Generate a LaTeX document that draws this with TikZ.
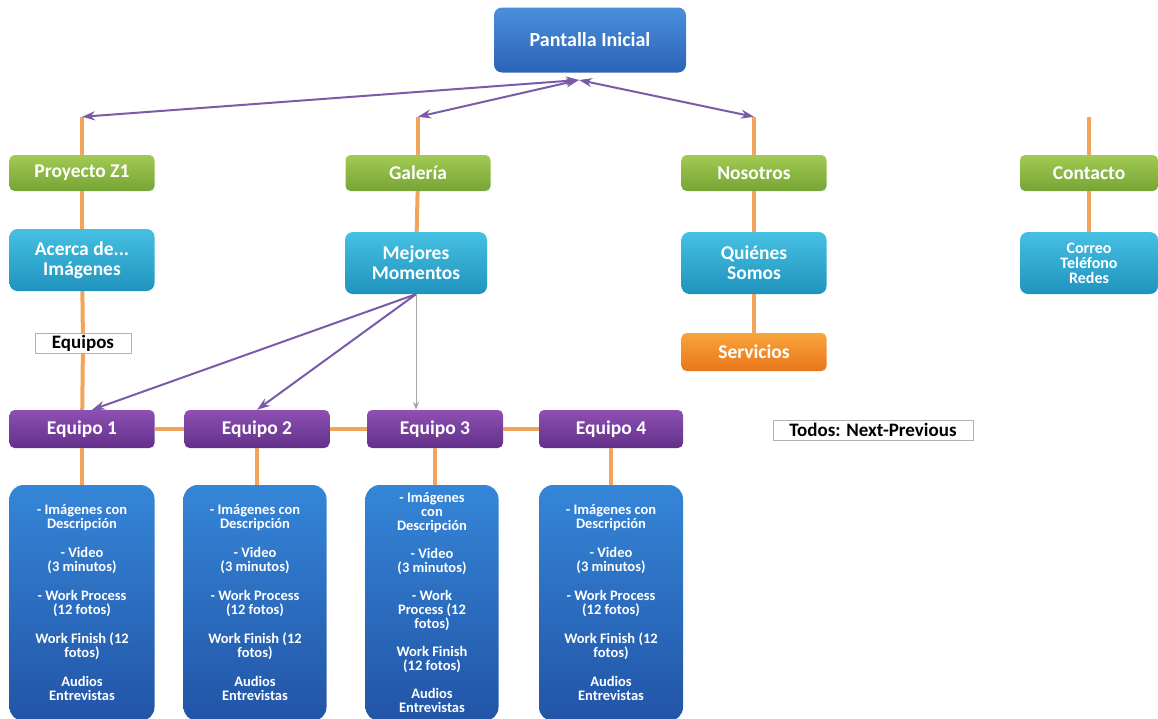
\documentclass[tikz,border=0pt]{standalone}
\usepackage{fontspec}
\usetikzlibrary{arrows.meta}
\setmainfont{Carlito}

\definecolor{homeA}{HTML}{4A8FDC}
\definecolor{homeB}{HTML}{2B63B5}
\definecolor{greenA}{HTML}{A2CA52}
\definecolor{greenB}{HTML}{76A436}
\definecolor{cyanA}{HTML}{46C0E2}
\definecolor{cyanB}{HTML}{1F93BE}
\definecolor{purpA}{HTML}{8E50B2}
\definecolor{purpB}{HTML}{62308A}
\definecolor{servA}{HTML}{F9A43E}
\definecolor{servB}{HTML}{E8761A}
\definecolor{blueA}{HTML}{3586D8}
\definecolor{blueB}{HTML}{2254A6}
\definecolor{lineorange}{HTML}{F2A55A}
\definecolor{navpurple}{HTML}{7A5BA8}

\newcommand{\contenido}{- Imágenes con\\Descripción\\[15pt]- Video\\(3 minutos)\\[15pt]- Work Process\\(12 fotos)\\[15pt]Work Finish (12\\fotos)\\[15pt]Audios\\Entrevistas}

\begin{document}
\begin{tikzpicture}[x=1pt, y=-1pt,
		base/.style={rounded corners=5pt, text=white, align=center, inner sep=0pt, font=\bfseries\fontsize{19.5}{20}\selectfont},
		menu/.style={base, minimum width=145pt, minimum height=36pt, top color=greenA, bottom color=greenB},
		sub/.style={base, minimum width=145pt, minimum height=62pt, rounded corners=8pt, top color=cyanA, bottom color=cyanB},
		team/.style={base, minimum height=38pt, top color=purpA, bottom color=purpB},
		detail/.style={base, rounded corners=14pt, minimum height=236pt, top color=blueA, bottom color=blueB, font=\bfseries\fontsize{14.5}{14}\selectfont},
		tag/.style={draw=gray!60, fill=white, inner sep=0pt, minimum height=20pt, font=\bfseries\fontsize{19}{20}\selectfont},
		link/.style={draw=lineorange, line width=4pt},
		nav/.style={{Stealth[length=13pt,width=9pt]}-{Stealth[length=13pt,width=9pt]}, draw=navpurple, line width=2pt}
	]
	\useasboundingbox (0,0) rectangle (1158,718);

	\node[base, rounded corners=8pt, minimum width=192pt, minimum height=65pt, top color=homeA, bottom color=homeB, font=\bfseries\fontsize{20}{22}\selectfont] at (590,40) (home) {Pantalla Inicial};
	\coordinate (hub) at (579,80);

	\node[menu] at (82,173) (proyecto) {Proyecto Z1};
	\node[menu] at (418,173) (galeria) {Galería};
	\node[menu] at (754,173) (nosotros) {Nosotros};
	\node[menu, minimum width=138pt] at (1089,173) (contacto) {Contacto};

	\foreach \m in {proyecto, galeria, nosotros, contacto}{
		\coordinate (top-\m) at ([yshift=38pt]\m.north);
		\draw[link] (top-\m) -- (\m);
	}
	\draw[nav] (hub) -- (top-proyecto);
	\draw[nav] (hub) -- (top-galeria);
	\draw[nav] (hub) -- (top-nosotros);

	\node[sub] at (82,260) (acerca) {Acerca de...\\Imágenes};
	\node[sub, minimum width=142pt] at (416,263) (mejores) {Mejores\\Momentos};
	\node[sub] at (754,263) (quienes) {Quiénes\\Somos};
	\node[sub, minimum width=138pt, font=\bfseries\fontsize{16}{15}\selectfont] at (1089,263) (correo) {Correo\\Teléfono\\Redes};
	\node[base, minimum width=145pt, minimum height=38pt, top color=servA, bottom color=servB] at (754,352) (servicios) {Servicios};

	\draw[link] (proyecto) -- (acerca);
	\draw[link] (galeria) -- (mejores);
	\draw[link] (nosotros) -- (quienes);
	\draw[link] (contacto) -- (correo);
	\draw[link] (quienes) -- (servicios);

	\foreach \i/\x/\w in {1/82/145, 2/257/145, 3/435/136, 4/611/144}{
		\node[team, minimum width=\w pt] at (\x,429) (equipo\i) {Equipo \i};
	}
	\node[tag, minimum width=96pt] at (83,343) (equipos) {Equipos};
	\node[tag, minimum width=200pt] at (873,430) (todos) {Todos: Next-Previous};

	\draw[link] (acerca) -- (equipos);
	\draw[link] (equipos) -- (equipo1);
	\draw[link] (equipo1) -- (equipo2);
	\draw[link] (equipo2) -- (equipo3);
	\draw[link] (equipo3) -- (equipo4);

	\draw[-{Stealth[length=13pt,width=9pt]}, draw=navpurple, line width=2pt] (mejores.south) -- ([xshift=10pt]equipo1.north);
	\draw[-{Stealth[length=13pt,width=9pt]}, draw=navpurple, line width=2pt] (mejores.south) -- (equipo2.north);
	\draw[-{Stealth[length=8pt,width=6pt]}, draw=gray!70, line width=1pt] (mejores.south) -- (equipo3.north -| mejores.south);

	\node[detail, minimum width=145pt] at (82,603) (detalle1) {\contenido};
	\node[detail, minimum width=143pt] at (255,603) (detalle2) {\contenido};
	\node[detail, minimum width=133pt] at (432,603) (detalle3) {- Imágenes\\con\\Descripción\\[14pt]- Video\\(3 minutos)\\[14pt]- Work\\Process (12\\fotos)\\[14pt]Work Finish\\(12 fotos)\\[14pt]Audios\\Entrevistas};
	\node[detail, minimum width=144pt] at (611,603) (detalle4) {\contenido};

	\foreach \i in {1,...,4}{
		\draw[link] (equipo\i.south) -- (equipo\i.south |- detalle\i.north);
	}

\end{tikzpicture}
\end{document}
